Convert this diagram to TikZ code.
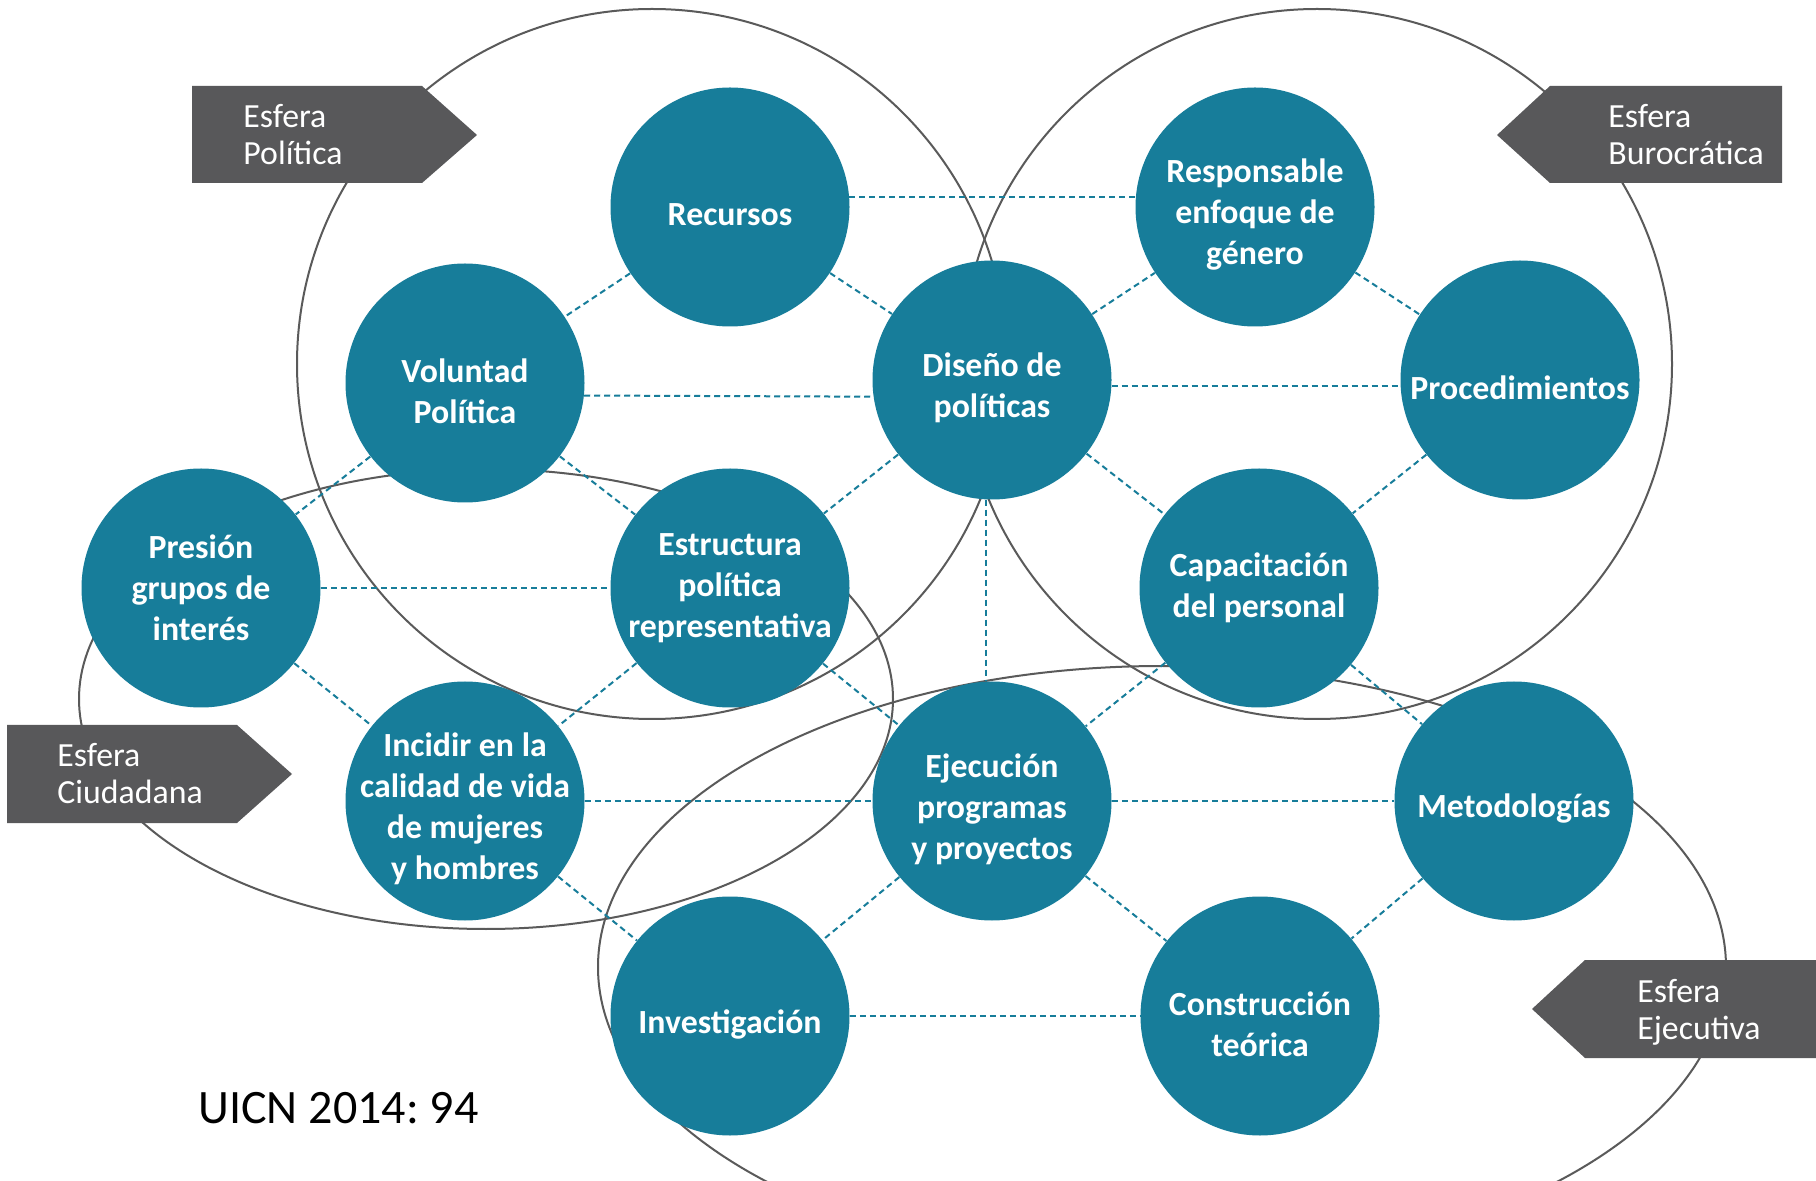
\documentclass[tikz,border=0pt]{standalone}
\usepackage{fontspec}
\setmainfont{Carlito}
\frenchspacing
\definecolor{azul}{HTML}{177D9A}
\definecolor{gris}{HTML}{58585A}
\definecolor{linea}{HTML}{5A5A5A}
\tikzset{
  burbuja/.style={circle,fill=azul,minimum size=119.5pt,inner sep=0pt},
  texto/.style={text=white,align=center,font=\bfseries\fontsize{16.9}{20.5}\selectfont},
  texto bajo/.style={texto,yshift=-4pt},
  enlace/.style={azul,dash pattern=on 3pt off 2pt,line width=1pt},
  esfera/.style={fill=gris},
  rotulo/.style={text=white,align=left,anchor=west,inner sep=0pt,font=\fontsize{16.9}{18.5}\selectfont},
  orbita/.style={linea,line width=1pt}
}
\begin{document}
\begin{tikzpicture}[x=0.5pt,y=-0.5pt]
    \fill[white] (0,0) rectangle (1816,1181);
    \clip (0,0) rectangle (1816,1181);

    % the four spheres
    \draw[orbita] (652,364) circle [radius=177.5pt];
    \draw[orbita] (1317,364) circle [radius=177.5pt];
    \draw[orbita] (486,699) ellipse [x radius=203.5pt,y radius=115pt];
    \draw[orbita] (1162,967) ellipse [x radius=282pt,y radius=150.5pt];

    \node[burbuja,label={[texto bajo]center:Recursos}] (rec) at (730,207) {};
    \node[burbuja,label={[texto bajo]center:Voluntad\\Política}] (vol) at (465,383) {};
    \node[burbuja,label={[texto bajo]center:Diseño de\\políticas}] (dis) at (992,380) {};
    \node[burbuja,label={[texto bajo]center:Responsable\\enfoque de\\género}] (res) at (1255,207) {};
    \node[burbuja,label={[texto bajo]center:Procedimientos}] (pro) at (1520,380) {};
    \node[burbuja,label={[texto]center:Presión\\grupos de\\interés}] (pre) at (201,588) {};
    \node[burbuja,label={[texto]center:Estructura\\política\\representativa}] (est) at (730,588) {};
    \node[burbuja,label={[texto]center:Capacitación\\del personal}] (cap) at (1259,588) {};
    \node[burbuja,label={[texto bajo]center:Incidir en la\\calidad de vida\\de mujeres\\y hombres}] (inc) at (465,801) {};
    \node[burbuja,label={[texto bajo]center:Ejecución\\programas\\y proyectos}] (eje) at (992,801) {};
    \node[burbuja,label={[texto bajo]center:Metodologías}] (met) at (1514,801) {};
    \node[burbuja,label={[texto bajo]center:Investigación}] (inv) at (730,1016) {};
    \node[burbuja,label={[texto bajo]center:Construcción\\teórica}] (con) at (1260,1016) {};

    \draw[enlace] (rec.5) -- (res.175);
    \draw[enlace] (rec) -- (vol);
    \draw[enlace] (rec) -- (dis);
    \draw[enlace] (vol.-6) -- (dis.188);
    \draw[enlace] (dis) -- (res);
    \draw[enlace] (res) -- (pro);
    \draw[enlace] (dis.-3) -- (pro.183);
    \draw[enlace] (vol) -- (pre);
    \draw[enlace] (vol) -- (est);
    \draw[enlace] (dis) -- (est);
    \draw[enlace] (dis) -- (cap);
    \draw[enlace] (pro) -- (cap);
    \draw[enlace] (pre) -- (est);
    \draw[enlace] (dis.267) -- (eje.93);
    \draw[enlace] (pre) -- (inc);
    \draw[enlace] (est) -- (inc);
    \draw[enlace] (est) -- (eje);
    \draw[enlace] (cap) -- (eje);
    \draw[enlace] (cap) -- (met);
    \draw[enlace] (inc) -- (eje);
    \draw[enlace] (eje) -- (met);
    \draw[enlace] (inc) -- (inv);
    \draw[enlace] (eje) -- (inv);
    \draw[enlace] (eje) -- (con);
    \draw[enlace] (met) -- (con);
    \draw[enlace] (inv) -- (con);

    % labels
    \fill[esfera] (192,86) -- (422,86) -- (477,135) -- (422,183) -- (192,183) -- cycle;
    \node[rotulo] (pol) at (243,135) {Esfera\\Política};
    \fill[esfera] (1550,86) -- (1782,86) -- (1782,183) -- (1550,183) -- (1497,135) -- cycle;
    \node[rotulo] (bur) at (1608,135) {Esfera\\Burocrática};
    \fill[esfera] (7,725) -- (237,725) -- (292,774) -- (237,823) -- (7,823) -- cycle;
    \node[rotulo] (ciu) at (57,774) {Esfera\\Ciudadana};
    \fill[esfera] (1585,960) -- (1816,960) -- (1816,1058) -- (1585,1058) -- (1532,1009) -- cycle;
    \node[rotulo] (ejv) at (1637,1012) {Esfera\\Ejecutiva};

    \node[anchor=base west,inner sep=0pt,font=\fontsize{24}{28}\selectfont] (fuente) at (198,1123) {UICN 2014: 94};
\end{tikzpicture}
\end{document}
